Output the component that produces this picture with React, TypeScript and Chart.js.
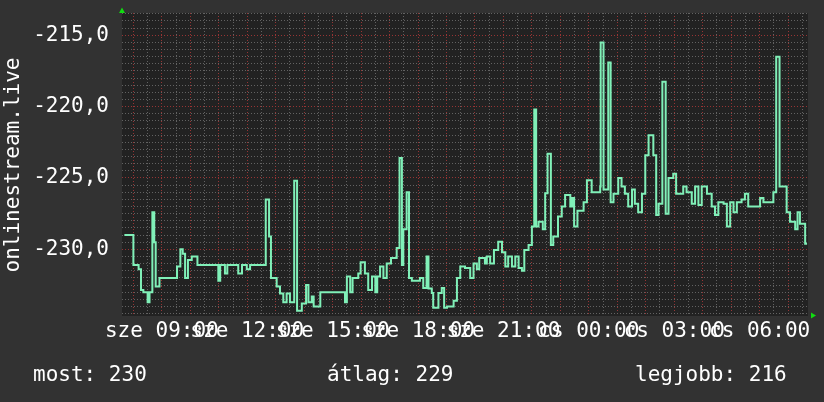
import { useEffect, useRef } from 'react';
import { Chart, registerables } from 'chart.js';

Chart.register(...registerables);

// Minutes since "sze 00:00" at which each level starts (step series)
const sampleMinutes = [
  461, 480, 491, 496, 501, 510, 514, 520, 524, 527,
  535, 572, 579, 584, 589, 595, 603, 615, 659, 663,
  673, 678, 701, 709, 719, 726, 759, 766, 770, 782,
  789, 796, 803, 810, 819, 825, 835, 844, 849, 856,
  860, 874, 926, 930, 937, 942, 954, 959, 968, 975,
  983, 990, 994, 1000, 1007, 1014, 1023, 1035, 1041, 1046,
  1049, 1056, 1061, 1067, 1084, 1091, 1098, 1102, 1109, 1112,
  1123, 1130, 1135, 1141, 1155, 1162, 1169, 1179, 1190, 1197,
  1204, 1209, 1221, 1225, 1232, 1240, 1249, 1257, 1264, 1270,
  1278, 1285, 1292, 1299, 1304, 1313, 1320, 1325, 1329, 1334,
  1343, 1348, 1353, 1360, 1365, 1375, 1383, 1390, 1401, 1405,
  1409, 1416, 1429, 1436, 1446, 1464, 1465, 1471, 1481, 1486,
  1492, 1502, 1509, 1516, 1523, 1531, 1537, 1544, 1552, 1559,
  1566, 1576, 1582, 1587, 1595, 1602, 1608, 1618, 1624, 1639,
  1646, 1657, 1664, 1671, 1678, 1689, 1699, 1706, 1713, 1724,
  1731, 1738, 1745, 1752, 1762, 1769, 1776, 1801, 1808, 1829,
  1835, 1842, 1857, 1864, 1875, 1880, 1885, 1896, 1900,
];

const sampleValues = [
  -229.0, -231.1, -231.4, -232.85, -233.0, -233.7, -233.0, -227.4, -229.5, -232.6,
  -232.0, -231.2, -230.0, -230.3, -232.0, -230.75, -230.5, -231.1, -232.2, -231.1,
  -231.7, -231.1, -231.7, -231.1, -231.4, -231.1, -226.5, -229.1, -232.0, -232.6,
  -233.1, -233.7, -233.1, -233.7, -225.2, -234.3, -233.8, -232.5, -233.7, -233.3,
  -234.0, -233.0, -233.7, -231.9, -233.0, -232.0, -231.7, -230.9, -231.7, -232.85,
  -231.9, -233.0, -231.9, -231.2, -232.0, -231.0, -230.6, -229.9, -223.6, -231.1,
  -228.6, -226.0, -232.0, -232.2, -232.0, -232.7, -230.5, -232.75, -233.05, -234.1,
  -233.05, -232.7, -234.1, -234.0, -233.6, -232.0, -231.2, -231.3, -232.0, -231.0,
  -231.4, -230.6, -231.0, -230.5, -231.0, -230.05, -229.46, -230.2, -231.2, -230.5,
  -231.2, -230.5, -231.3, -231.5, -230.05, -229.7, -228.4, -220.2, -228.4, -228.06,
  -228.6, -226.07, -223.3, -229.7, -229.1, -227.7, -227.0, -226.2, -227.0, -226.4,
  -228.4, -227.3, -226.7, -225.15, -226.0, -225.6, -215.5, -225.8, -216.9, -226.7,
  -226.1, -225.0, -225.6, -226.1, -227.0, -225.8, -226.8, -227.4, -226.1, -223.4,
  -222.0, -223.4, -227.6, -226.8, -218.25, -227.5, -225.0, -224.7, -226.1, -225.6,
  -226.0, -226.8, -225.6, -226.9, -225.6, -226.1, -227.0, -227.6, -226.7, -226.8,
  -228.4, -226.7, -227.4, -226.7, -226.5, -226.1, -227.0, -226.4, -226.7, -226.0,
  -216.5, -225.6, -227.4, -228.06, -228.6, -227.4, -228.2, -229.6, -229.6,
];

const xLabelMinutes = [540, 720, 900, 1080, 1260, 1440, 1620, 1800];
const xLabels = ['sze 09:00', 'sze 12:00', 'sze 15:00', 'sze 18:00', 'sze 21:00', 'cs 00:00', 'cs 03:00', 'cs 06:00'];
const yLabelValues = [-215, -220, -225, -230];
const yTitle = 'onlinestream.live';
const footerTexts = ['most: 230', 'átlag: 229', 'legjobb: 216'];

const X_MIN = 456;
const X_MAX = 1902;
const Y_MIN = -234.67;
const Y_MAX = -213.44;

const FONT = 'DejaVu Sans Mono';
const FONT_SIZE = 21;
const MINOR = 'rgba(105,105,105,0.9)';
const MAJOR = 'rgb(150,52,52)';

const zeroPadding = (s: any) => {
  s.paddingTop = 0;
  s.paddingBottom = 0;
  s.paddingLeft = 0;
  s.paddingRight = 0;
};

export default function App() {
  const ref = useRef<HTMLCanvasElement>(null);

  useEffect(() => {
    document.body.style.margin = '0';
    const canvas = ref.current;
    if (!canvas) return;

    const n = Math.min(sampleMinutes.length, sampleValues.length);
    const points = [];
    for (let i = 0; i < n; i++) points.push({ x: sampleMinutes[i], y: sampleValues[i] });

    const decor = {
      id: 'decor',
      beforeDraw(chart: any) {
        const { ctx, chartArea: a, width, height } = chart;
        ctx.save();
        ctx.fillStyle = '#323232';
        ctx.fillRect(0, 0, width, height);
        ctx.fillStyle = '#222222';
        ctx.fillRect(a.left, a.top, a.right - a.left, a.bottom - a.top);
        ctx.restore();
      },
      afterDraw(chart: any) {
        const { ctx, chartArea: a } = chart;
        ctx.save();
        // arrows
        ctx.fillStyle = '#11dd11';
        ctx.beginPath();
        ctx.moveTo(a.left - 3, a.top);
        ctx.lineTo(a.left + 3, a.top);
        ctx.lineTo(a.left, a.top - 5.5);
        ctx.closePath();
        ctx.fill();
        ctx.beginPath();
        ctx.moveTo(a.right + 3, a.bottom - 3.5);
        ctx.lineTo(a.right + 3, a.bottom + 2.5);
        ctx.lineTo(a.right + 8, a.bottom - 0.5);
        ctx.closePath();
        ctx.fill();
        // y title
        ctx.fillStyle = '#ffffff';
        ctx.font = `${FONT_SIZE}px "${FONT}"`;
        ctx.translate(18.5, 165);
        ctx.rotate(-Math.PI / 2);
        ctx.textAlign = 'center';
        ctx.textBaseline = 'alphabetic';
        ctx.fillText(yTitle, 0, 0);
        ctx.restore();
        // footer
        ctx.save();
        ctx.fillStyle = '#ffffff';
        ctx.font = `${FONT_SIZE}px "${FONT}"`;
        ctx.textAlign = 'left';
        ctx.textBaseline = 'alphabetic';
        const xs = [33, 327, 635];
        footerTexts.forEach((t, i) => ctx.fillText(t, xs[i], 381));
        ctx.restore();
      },
    };

    const chart = new Chart(canvas, {
      type: 'line',
      data: {
        datasets: [
          {
            data: points,
            borderColor: '#80f0b8',
            borderWidth: 2,
            pointRadius: 0,
            stepped: 'before',
            fill: false,
          },
        ],
      },
      options: {
        responsive: false,
        animation: false,
        devicePixelRatio: 1,
        layout: { padding: { left: 0, top: 13, right: 16, bottom: 0 } },
        plugins: { legend: { display: false }, tooltip: { enabled: false } },
        scales: {
          x: {
            type: 'linear',
            min: X_MIN,
            max: X_MAX,
            afterBuildTicks: (s: any) => {
              const t = [];
              for (let m = 480; m <= X_MAX; m += 30) t.push({ value: m });
              s.ticks = t;
            },
            afterFit: (s: any) => {
              s.height = 86;
              zeroPadding(s);
            },
            ticks: {
              autoSkip: false,
              maxRotation: 0,
              minRotation: 0,
              padding: 3,
              color: '#ffffff',
              font: { family: FONT, size: FONT_SIZE },
              callback: (v: any) => {
                const i = xLabelMinutes.indexOf(Number(v));
                return i >= 0 ? xLabels[i] : '';
              },
            },
            grid: {
              drawTicks: false,
              lineWidth: 1,
              color: (c: any) => (c.tick && c.tick.value % 60 === 0 ? MAJOR : MINOR),
            },
            border: { display: false, dash: [1, 2] },
          },
          y: {
            type: 'linear',
            min: Y_MIN,
            max: Y_MAX,
            afterBuildTicks: (s: any) => {
              const t = [];
              for (let v = -234.5; v <= -213.5; v += 0.5) t.push({ value: v });
              s.ticks = t;
            },
            afterFit: (s: any) => {
              s.width = 122;
              zeroPadding(s);
            },
            ticks: {
              autoSkip: false,
              padding: 13,
              color: '#ffffff',
              font: { family: FONT, size: FONT_SIZE },
              callback: (v: any) => {
                const num = Number(v);
                return yLabelValues.some((y) => Math.abs(y - num) < 1e-6)
                  ? num.toFixed(1).replace('.', ',')
                  : '';
              },
            },
            grid: {
              drawTicks: false,
              lineWidth: 1,
              color: (c: any) =>
                c.tick && yLabelValues.some((y) => Math.abs(y - c.tick.value) < 1e-6) ? MAJOR : MINOR,
            },
            border: { display: false, dash: [1, 2] },
          },
        },
      },
      plugins: [decor],
    } as any);

    return () => chart.destroy();
  }, []);

  return (
    <div style={{ width: 824, height: 402, position: 'relative' }}>
      <canvas ref={ref} width={824} height={402} style={{ display: 'block', width: 824, height: 402 }} />
    </div>
  );
}
